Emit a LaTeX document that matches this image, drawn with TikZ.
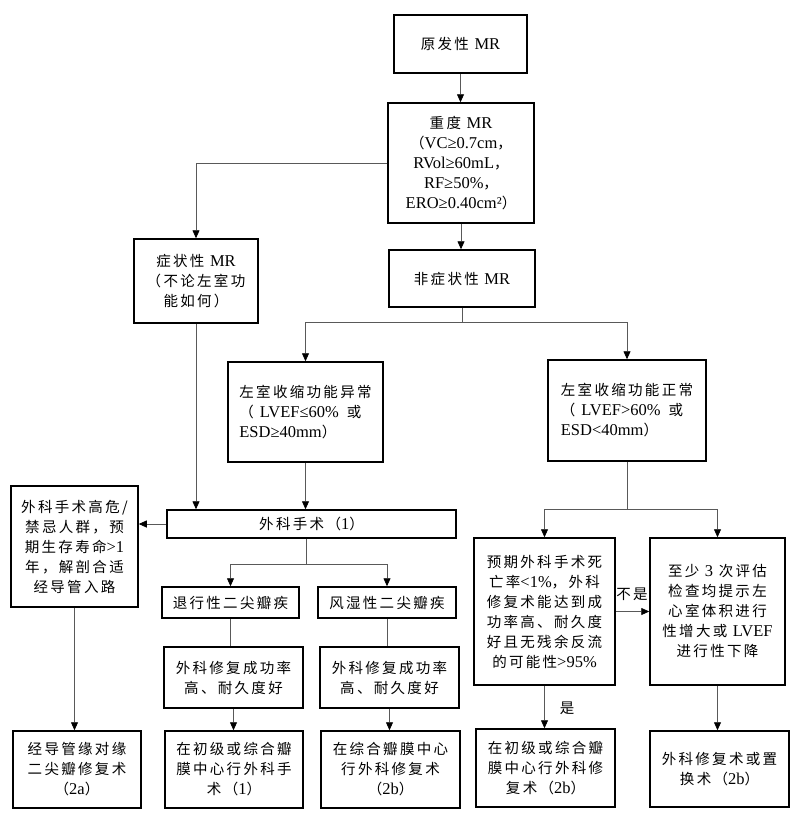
\documentclass[tikz,border=0pt]{standalone}
\usepackage{fontspec}
\setmainfont{Noto Sans CJK SC}[LetterSpace=16]
\newfontfamily\latinf{Liberation Serif}
\newcommand\en[1]{{\latinf\fontsize{16.5}{20}\selectfont #1}}
\usetikzlibrary{arrows.meta}
\tikzset{
  box/.style={draw=black, line width=1.5pt, align=center, inner sep=2pt, font=\fontsize{14.5}{20}\selectfont},
  conn/.style={draw=black!65, line width=0.8pt},
  arr/.style={conn, -{Triangle[length=8pt,width=7pt,color=black]}},
  lbl/.style={font=\fontsize{14.5}{20}\selectfont, inner sep=1pt}
}
\begin{document}
\begin{tikzpicture}[x=1pt,y=-1pt]
\useasboundingbox (0,0) rectangle (800,822);
\fill[white] (0,0) rectangle (800,822);
% nodes
\node[box, minimum width=133pt, minimum height=58pt] (A) at (460.5,44) {原发性 \en{MR}};
\node[box, minimum width=146pt, minimum height=120pt] (B) at (461,163) {重度 \en{MR}\\（\en{VC≥0.7cm}，\\\en{RVol≥60mL}，\\\en{RF≥50\%}，\\\en{ERO≥0.40cm²}）};
\node[box, minimum width=124pt, minimum height=84pt] (C) at (196,281) {症状性 \en{MR}\\（不论左室功\\能如何）};
\node[box, minimum width=146pt, minimum height=57pt] (D) at (462,278.5) {非症状性 \en{MR}};
\node[box, align=left, minimum width=155pt, minimum height=100pt] (E) at (305.5,412) {左室收缩功能异常\\（\hspace{6pt}\en{LVEF≤60\%}\hspace{8pt}或\\\en{ESD≥40mm}）};
\node[box, align=left, minimum width=158pt, minimum height=101pt] (F) at (627,410.5) {左室收缩功能正常\\（\hspace{6pt}\en{LVEF>60\%}\hspace{8pt}或\\\en{ESD<40mm}）};
\node[box, minimum width=289pt, minimum height=28pt] (G) at (311.5,524) {外科手术（\en{1}）};
\node[box, minimum width=127pt, minimum height=121pt] (H) at (74.5,546.5) {外科手术高危/\\禁忌人群，预\\期生存寿命\en{>1}\\年，解剖合适\\经导管入路};
\node[box, minimum width=137pt, minimum height=31pt] (I) at (230.5,602.5) {退行性二尖瓣疾};
\node[box, minimum width=138pt, minimum height=31pt] (J) at (387,602.5) {风湿性二尖瓣疾};
\node[box, minimum width=139pt, minimum height=61pt] (K) at (233.5,677.5) {外科修复成功率\\高、耐久度好};
\node[box, minimum width=139pt, minimum height=61pt] (L) at (389.5,677.5) {外科修复成功率\\高、耐久度好};
\node[box, minimum width=128pt, minimum height=77pt] (M) at (77,769.5) {经导管缘对缘\\二尖瓣修复术\\（\en{2a}）};
\node[box, minimum width=138pt, minimum height=77pt] (N) at (234,769.5) {在初级或综合瓣\\膜中心行外科手\\术（\en{1}）};
\node[box, minimum width=139pt, minimum height=77pt] (O) at (390.5,769.5) {在综合瓣膜中心\\行外科修复术\\（\en{2b}）};
\node[box, minimum width=141pt, minimum height=147pt] (P) at (544.5,611.5) {预期外科手术死\\亡率\en{<1\%}，外科\\修复术能达到成\\功率高、耐久度\\好且无残余反流\\的可能性\en{>95\%}};
\node[box, minimum width=135pt, minimum height=147pt] (Q) at (717.5,611.5) {至少 \en{3} 次评估\\检查均提示左\\心室体积进行\\性增大或 \en{LVEF}\\进行性下降};
\node[box, minimum width=139pt, minimum height=78pt] (R) at (545.5,768) {在初级或综合瓣\\膜中心行外科修\\复术（\en{2b}）};
\node[box, minimum width=139pt, minimum height=76pt] (S) at (719.5,769) {外科修复术或置\\换术（\en{2b}）};
% connectors
\draw[arr] (A.south) -- (A.south |- B.north);
\draw[arr] (B.west) -| (C.north);
\draw[arr] (B.south) -- (B.south |- D.north);
\coordinate (d1) at (462,322);
\draw[conn] (D.south) -- (d1);
\draw[arr] (d1) -| (E.north);
\draw[arr] (d1) -| (F.north);
\draw[arr] (C.south) -- (C.south |- G.north);
\draw[arr] (E.south) -- (E.south |- G.north);
\draw[arr] (G.west) -- (G.west -| H.east);
\coordinate (g1) at (306,564);
\draw[conn] (g1 |- G.south) -- (g1);
\draw[arr] (g1) -| (I.north);
\draw[arr] (g1) -| (J.north);
\draw[conn] (I.south) -- (I.south |- K.north);
\draw[conn] (J.south) -- (J.south |- L.north);
\draw[arr] (K.south) -- (K.south |- N.north);
\draw[arr] (L.south) -- (L.south |- O.north);
\draw[arr] (H.south) -- (H.south |- M.north);
\coordinate (f1) at (627,509);
\draw[conn] (F.south) -- (f1);
\draw[arr] (f1) -| (P.north);
\draw[arr] (f1) -| (Q.north);
\draw[arr] (P.east) -- (Q.west);
\node[lbl] (nolbl) at (632,594) {不是};
\draw[arr] (P.south) -- (P.south |- R.north);
\node[lbl] (yeslbl) at (567,708) {是};
\draw[arr] (Q.south) -- (Q.south |- S.north);
\end{tikzpicture}
\end{document}
